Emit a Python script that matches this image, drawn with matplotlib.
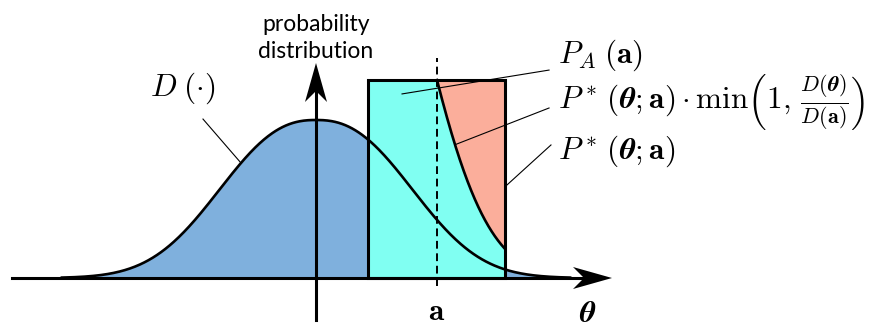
import numpy as np
import matplotlib.pyplot as plt
from matplotlib.patches import Polygon, Rectangle

plt.rcParams['mathtext.fontset'] = 'cm'

# target density D(theta) ~ exp(-|theta|^p), unit width
d_center = 0.0
d_width = 1.0
d_power = 2.4
d_range = (-2.1, 2.1)

# uniform proposal P*(theta; a) around the current point a
a_val = 1.0
prop_left = 0.43
prop_right = 1.56
prop_height = 1.253

# leader line anchors (label end, mark end)
lead_pa = ((1.926, 1.316), (0.711, 1.165))
lead_acc = ((1.926, 1.076), 1.149)
lead_prop = ((1.942, 0.842), 0.576)
lead_d = ((-0.934, 1.006), -0.62)

blue = '#7fb0dd'
cyan = '#80fff2'
salmon = '#fbae9b'

# pixels per unit on each axis (figure is 874x327 px)
xu, yu = 121.0, 158.0


def D(t):
    return np.exp(-np.abs((t - d_center) / d_width) ** d_power)


def acc_curve(t):
    return prop_height * np.minimum(1.0, D(t) / D(a_val))


def stealth(ax, tip, direction):
    # arrow head sized in pixels, converted into data units
    L, W, N = 39, 11, 28
    if direction == 'right':
        pts = [(0, 0), (-L, W), (-N, 0), (-L, -W)]
    else:
        pts = [(0, 0), (W, -L), (0, -N), (-W, -L)]
    pts = [(tip[0] + px / xu, tip[1] + py / yu) for px, py in pts]
    ax.add_patch(Polygon(pts, closed=True, color='black', lw=0, zorder=10))


fig = plt.figure(figsize=(8.74, 3.27), dpi=100)
ax = fig.add_axes([0, 0, 1, 1])
ax.set_xlim(-316 / xu, (874 - 316) / xu)
ax.set_ylim(-(327 - 278) / yu, 278 / yu)
ax.axis('off')

theta = np.linspace(d_range[0], d_range[1], 600)
ax.fill_between(theta, 0, D(theta), color=blue, lw=0, zorder=1)

# proposal box: accepted part in cyan, rejected part in salmon
ax.add_patch(Rectangle((prop_left, 0), prop_right - prop_left, prop_height,
                       facecolor=salmon, lw=0, zorder=2))
tb = np.linspace(prop_left, prop_right, 400)
ax.fill_between(tb, 0, acc_curve(tb), color=cyan, lw=0, zorder=3)
ta = np.linspace(a_val, prop_right, 300)
ax.plot(ta, acc_curve(ta), color='black', lw=1.9, zorder=5)

ax.plot(theta, D(theta), color='black', lw=1.9, zorder=6)
ax.add_patch(Rectangle((prop_left, 0), prop_right - prop_left, prop_height,
                       fill=False, edgecolor='black', lw=2.2, zorder=7))

dash, = ax.plot([a_val, a_val], [-0.05, 1.392], color='black', lw=1.4, zorder=8)
dash.set_dashes((4, 2.4))

# axes with arrow heads
x_tip = (612 - 316) / xu
y_tip = (278 - 63) / yu
ax.plot([-304 / xu, x_tip - 20 / xu], [0, 0], color='black', lw=2.2, zorder=9)
ax.plot([0, 0], [-42 / yu, y_tip - 20 / yu], color='black', lw=2.2, zorder=9)
stealth(ax, (x_tip, 0), 'right')
stealth(ax, (0, y_tip), 'up')

# leader lines
ax.plot([lead_pa[0][0], lead_pa[1][0]], [lead_pa[0][1], lead_pa[1][1]],
        color='black', lw=0.8, zorder=11)
ax.plot([lead_acc[0][0], lead_acc[1]], [lead_acc[0][1], acc_curve(lead_acc[1])],
        color='black', lw=0.8, zorder=11)
ax.plot([lead_prop[0][0], prop_right], [lead_prop[0][1], lead_prop[1]],
        color='black', lw=0.8, zorder=11)
ax.plot([lead_d[0][0], lead_d[1]], [lead_d[0][1], D(lead_d[1])],
        color='black', lw=0.8, zorder=11)

# labels
fs = 22.5
ax.text(0, 1.52, 'probability\ndistribution', ha='center', va='center',
        family='Lato', fontsize=16.5, linespacing=1.38)
ax.text(-1.372, 1.203, r'$D\;(\cdot)$', ha='left', va='center', fontsize=fs)
ax.text(2.0, 1.41, r'$P_A\;(\mathbf{a})$', ha='left', va='center', fontsize=fs)
ax.text(2.0, 1.11,
        r'$P^*\,(\boldsymbol{\theta};\mathbf{a})\cdot\min\left(1,\,'
        r'\frac{D(\boldsymbol{\theta})}{D(\mathbf{a})}\right)$',
        ha='left', va='center', fontsize=fs)
ax.text(2.0, 0.80, r'$P^*\,(\boldsymbol{\theta};\mathbf{a})$',
        ha='left', va='center', fontsize=fs)
ax.text(a_val, -0.21, r'$\mathbf{a}$', ha='center', va='center', fontsize=fs)
ax.text(2.248, -0.225, r'$\boldsymbol{\theta}$', ha='center', va='center', fontsize=fs)

fig.savefig('out.png', dpi=100)
